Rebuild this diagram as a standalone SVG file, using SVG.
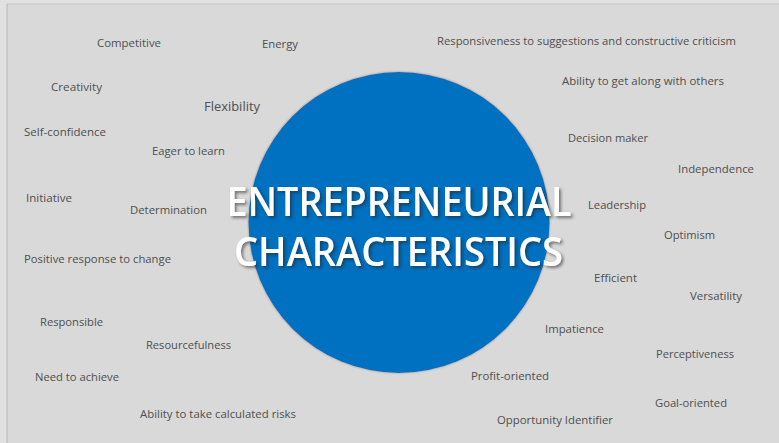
<svg xmlns="http://www.w3.org/2000/svg" width="779" height="443" viewBox="0 0 779 443">
<style>
.lbl{font-family:"Open Sans",Lato,"Liberation Sans",sans-serif;font-size:11px;fill:#4f4f4f;}
.big{font-size:12.5px;}
.title{font-family:"Open Sans",Lato,"Liberation Sans",sans-serif;font-size:39px;font-weight:600;fill:#ffffff;text-anchor:middle;}
</style>
<defs>
<filter id="halo" x="-10%" y="-10%" width="120%" height="120%">
<feDropShadow dx="0" dy="0" stdDeviation="1.3" flood-color="#8c7250" flood-opacity="0.75"/>
</filter>
<filter id="tshadow" x="-10%" y="-30%" width="120%" height="160%">
<feDropShadow dx="2" dy="2" stdDeviation="1.5" flood-color="#202020" flood-opacity="0.55"/>
</filter>
</defs>
<rect x="0" y="0" width="779" height="443" fill="#e1e1e1"/>
<rect x="7" y="4" width="772" height="439" fill="#d9d9d9"/>
<line x1="7" y1="4" x2="779" y2="4" stroke="#c4c4c4" stroke-width="1"/>
<line x1="7" y1="4" x2="7" y2="443" stroke="#b8b8b8" stroke-width="1"/>

<g id="center">
<circle cx="399" cy="222.5" r="150.5" fill="#0070c0" filter="url(#halo)"/>
<g filter="url(#tshadow)">
<text class="title" x="399" y="215.5" textLength="345" lengthAdjust="spacingAndGlyphs">ENTREPRENEURIAL</text>
<text class="title" x="398.5" y="265.5" textLength="329" lengthAdjust="spacingAndGlyphs">CHARACTERISTICS</text>
</g>
</g>

<g id="n-competitive"><text class="lbl" x="97" y="47" textLength="64" lengthAdjust="spacingAndGlyphs">Competitive</text></g>
<g id="n-energy"><text class="lbl" x="262" y="48" textLength="36" lengthAdjust="spacingAndGlyphs">Energy</text></g>
<g id="n-responsiveness"><text class="lbl" x="437" y="45" textLength="299" lengthAdjust="spacingAndGlyphs">Responsiveness to suggestions and constructive criticism</text></g>
<g id="n-creativity"><text class="lbl" x="51" y="91" textLength="51" lengthAdjust="spacingAndGlyphs">Creativity</text></g>
<g id="n-flexibility"><text class="lbl big" x="204" y="110.5" textLength="56" lengthAdjust="spacingAndGlyphs">Flexibility</text></g>
<g id="n-getalong"><text class="lbl" x="562" y="85" textLength="162" lengthAdjust="spacingAndGlyphs">Ability to get along with others</text></g>
<g id="n-selfconfidence"><text class="lbl" x="24" y="135.5" textLength="82" lengthAdjust="spacingAndGlyphs">Self-confidence</text></g>
<g id="n-eager"><text class="lbl" x="152" y="155" textLength="73" lengthAdjust="spacingAndGlyphs">Eager to learn</text></g>
<g id="n-decision"><text class="lbl" x="568" y="142" textLength="80" lengthAdjust="spacingAndGlyphs">Decision maker</text></g>
<g id="n-independence"><text class="lbl" x="678" y="173" textLength="76" lengthAdjust="spacingAndGlyphs">Independence</text></g>
<g id="n-initiative"><text class="lbl" x="26" y="202" textLength="46" lengthAdjust="spacingAndGlyphs">Initiative</text></g>
<g id="n-determination"><text class="lbl" x="130" y="214" textLength="77" lengthAdjust="spacingAndGlyphs">Determination</text></g>
<g id="n-leadership"><text class="lbl" x="588" y="209" textLength="58" lengthAdjust="spacingAndGlyphs">Leadership</text></g>
<g id="n-optimism"><text class="lbl" x="664" y="239" textLength="51" lengthAdjust="spacingAndGlyphs">Optimism</text></g>
<g id="n-positive"><text class="lbl" x="24" y="263" textLength="147" lengthAdjust="spacingAndGlyphs">Positive response to change</text></g>
<g id="n-efficient"><text class="lbl" x="594" y="282" textLength="43" lengthAdjust="spacingAndGlyphs">Efficient</text></g>
<g id="n-versatility"><text class="lbl" x="690" y="300" textLength="52" lengthAdjust="spacingAndGlyphs">Versatility</text></g>
<g id="n-responsible"><text class="lbl" x="40" y="325.5" textLength="63" lengthAdjust="spacingAndGlyphs">Responsible</text></g>
<g id="n-resourcefulness"><text class="lbl" x="146" y="349" textLength="85" lengthAdjust="spacingAndGlyphs">Resourcefulness</text></g>
<g id="n-impatience"><text class="lbl" x="545" y="333" textLength="59" lengthAdjust="spacingAndGlyphs">Impatience</text></g>
<g id="n-perceptiveness"><text class="lbl" x="656" y="358" textLength="78" lengthAdjust="spacingAndGlyphs">Perceptiveness</text></g>
<g id="n-needtoachieve"><text class="lbl" x="35" y="381" textLength="84" lengthAdjust="spacingAndGlyphs">Need to achieve</text></g>
<g id="n-profit"><text class="lbl" x="471" y="380" textLength="78" lengthAdjust="spacingAndGlyphs">Profit-oriented</text></g>
<g id="n-risks"><text class="lbl" x="140" y="418" textLength="156" lengthAdjust="spacingAndGlyphs">Ability to take calculated risks</text></g>
<g id="n-goal"><text class="lbl" x="655" y="407" textLength="72" lengthAdjust="spacingAndGlyphs">Goal-oriented</text></g>
<g id="n-opportunity"><text class="lbl" x="497" y="423.5" textLength="116" lengthAdjust="spacingAndGlyphs">Opportunity Identifier</text></g>
<g id="connectors"/>
</svg>
